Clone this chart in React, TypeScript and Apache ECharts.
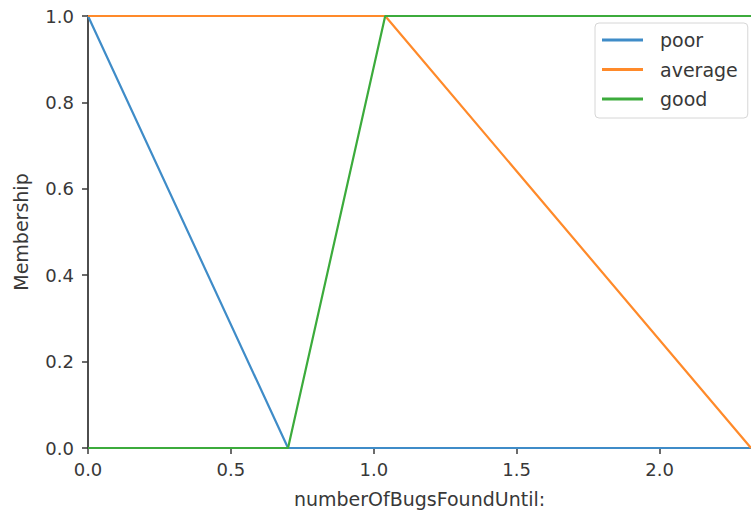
import React, { useEffect, useRef } from "react";
import * as echarts from "echarts";

const seriesNames = ["poor", "average", "good"];
const poorX = [0, 0.7, 2.32];
const poorY = [1, 0, 0];
const averageX = [0, 1.04, 2.32];
const averageY = [1, 1, 0];
const goodX = [0, 0.7, 1.04, 2.32];
const goodY = [0, 0, 1, 1];
const colors = ["#3f8cc8", "#ff8a2a", "#3cab3c"];
const xLabel = "numberOfBugsFoundUntil:";
const yLabel = "Membership";

const zip = (xs: number[], ys: number[]) => xs.map((x, i) => [x, ys[i]]);

export default function App() {
  const ref = useRef<HTMLDivElement>(null);
  useEffect(() => {
    if (!ref.current) return;
    const chart = echarts.init(ref.current, null, { renderer: "svg" });
    const font = "DejaVu Sans";
    const textColor = "#383838";
    const axisColor = "#3a3a3a";
    const data = [zip(poorX, poorY), zip(averageX, averageY), zip(goodX, goodY)];
    chart.setOption({
      animation: false,
      backgroundColor: "#fff",
      grid: { left: 88, top: 16, width: 669, height: 432, containLabel: false },
      xAxis: {
        type: "value",
        min: 0,
        max: 2.32,
        interval: 0.5,
        name: xLabel,
        nameLocation: "middle",
        nameGap: 41,
        nameTextStyle: { fontFamily: font, fontSize: 19, color: textColor },
        axisLine: { show: true, onZero: false, lineStyle: { color: axisColor, width: 1.8 } },
        axisTick: { show: true, inside: false, length: 6, lineStyle: { color: axisColor, width: 1.5 } },
        axisLabel: {
          showMaxLabel: false,
          margin: 12,
          fontFamily: font,
          fontSize: 18,
          color: textColor,
          formatter: (v: number) => v.toFixed(1),
        },
        splitLine: { show: false },
      },
      yAxis: {
        type: "value",
        min: 0,
        max: 1,
        interval: 0.2,
        name: yLabel,
        nameLocation: "middle",
        nameGap: 58,
        nameRotate: 90,
        nameTextStyle: { fontFamily: font, fontSize: 19, color: textColor },
        axisLine: { show: true, lineStyle: { color: axisColor, width: 1.8 } },
        axisTick: { show: true, inside: false, length: 6, lineStyle: { color: axisColor, width: 1.5 } },
        axisLabel: {
          margin: 14,
          fontFamily: font,
          fontSize: 18,
          color: textColor,
          formatter: (v: number) => v.toFixed(1),
        },
        splitLine: { show: false },
      },
      legend: {
        orient: "vertical",
        left: 595,
        top: 23,
        padding: [7, 10, 9, 7],
        itemGap: 9.5,
        itemWidth: 41,
        itemHeight: 3,
        icon: "rect",
        backgroundColor: "rgba(255,255,255,0.8)",
        borderColor: "#d6d6d6",
        borderWidth: 1,
        borderRadius: 4,
        textStyle: {
          fontFamily: font,
          fontSize: 19,
          color: textColor,
          lineHeight: 20,
          padding: [0, 0, 0, 12],
        },
        data: seriesNames,
      },
      series: seriesNames.map((name, i) => ({
        name,
        type: "line",
        data: data[i],
        showSymbol: false,
        symbol: "none",
        clip: true,
        color: colors[i],
        lineStyle: { color: colors[i], width: 2.2 },
        z: 2 + i,
      })),
    });
    return () => chart.dispose();
  }, []);
  return (
    <div
      ref={ref}
      style={{ position: "fixed", left: 0, top: 0, width: 751, height: 517 }}
    />
  );
}
